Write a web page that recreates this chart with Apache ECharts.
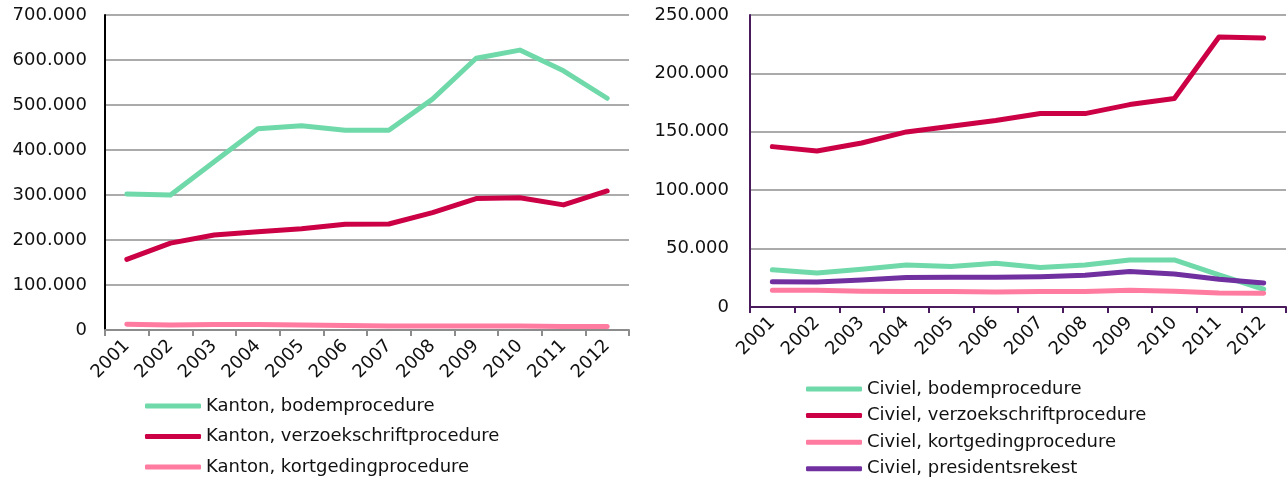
<!DOCTYPE html>
<html>
<head>
<meta charset="utf-8">
<script src="https://cdn.jsdelivr.net/npm/echarts@6/dist/echarts.min.js"></script>
<style>
html,body{margin:0;padding:0;background:#fff;}
#c{width:1288px;height:484px;}
</style>
</head>
<body>
<div id="c"></div>
<script>
const years = ['2001','2002','2003','2004','2005','2006','2007','2008','2009','2010','2011','2012'];

const kantonBodem   = [302000,300000,374000,447000,454000,444000,444000,513000,604000,622000,576000,515000];
const kantonVerzoek = [157000,193000,211000,218500,225000,235000,235500,261000,292000,294000,278000,309000];
const kantonKort    = [13000,11000,12000,12000,11000,10000,9000,9000,9000,9000,8000,8000];

const civielBodem   = [31800,29200,32300,36000,34600,37500,33800,36000,40300,40300,27500,15200];
const civielVerzoek = [137300,133600,140400,149900,154700,159600,165600,165600,173300,178500,231100,230300];
const civielKort    = [14300,14300,13400,13200,13200,12900,13200,13200,14300,13400,12000,11700];
const civielPres    = [21700,21500,23200,25200,25500,25500,26000,27200,30300,28300,23700,20600];

const leftNames  = ['Kanton, bodemprocedure','Kanton, verzoekschriftprocedure','Kanton, kortgedingprocedure'];
const rightNames = ['Civiel, bodemprocedure','Civiel, verzoekschriftprocedure','Civiel, kortgedingprocedure','Civiel, presidentsrekest'];

const GREEN='#6FD9AA', RED='#CC0044', PINK='#FF7BA0', PURPLE='#7030A0';
const FONT='DejaVu Sans';
const FS=18;

function fmt(v){ return String(v).replace(/\B(?=(\d{3})+(?!\d))/g,'.'); }

function xAxis(gi, lineColor, tickColor){
  return {
    type:'category', gridIndex:gi, data:years, boundaryGap:true,
    axisLine:{show:true,lineStyle:{color:lineColor,width:2}},
    axisTick:{show:true,length:6,inside:false,lineStyle:{color:tickColor,width:2}},
    axisLabel:{rotate:45,fontFamily:FONT,fontSize:FS,color:'#111',margin:13,interval:0},
    splitLine:{show:false}
  };
}
function yAxis(gi, max, interval, lineColor, margin){
  return {
    type:'value', gridIndex:gi, min:0, max:max, interval:interval,
    axisLine:{show:true,lineStyle:{color:lineColor,width:2}},
    axisTick:{show:false},
    axisLabel:{formatter:fmt,fontFamily:FONT,fontSize:FS,color:'#111',margin:margin},
    splitLine:{show:true,lineStyle:{color:'#ababab',width:2}}
  };
}
function line(name, data, color, xi){
  return {
    type:'line', name:name, data:data, xAxisIndex:xi, yAxisIndex:xi,
    showSymbol:false, symbol:'none', smooth:false,
    lineStyle:{color:color,width:5,cap:'round',join:'round'},
    itemStyle:{color:color}
  };
}

const chart = echarts.init(document.getElementById('c'), null, {renderer:'canvas'});
chart.setOption({
  animation:false,
  backgroundColor:'#fff',
  grid:[
    {left:105, top:15, width:524, height:315},
    {left:750, top:15, width:536, height:292}
  ],
  xAxis:[ xAxis(0,'#8c8c8c','#8c8c8c'), xAxis(1,'#4a1b5c','#4a1b5c') ],
  yAxis:[ yAxis(0,700000,100000,'#000',18), yAxis(1,250000,50000,'#4a1b5c',21) ],
  legend:[
    {data:leftNames, orient:'vertical', left:145, top:397, padding:0, itemWidth:56, itemHeight:5, itemGap:12.5,
     icon:'roundRect', textStyle:{fontFamily:FONT,fontSize:FS,color:'#111'}},
    {data:rightNames, orient:'vertical', left:806, top:380, padding:0, itemWidth:56, itemHeight:5, itemGap:8.6,
     icon:'roundRect', textStyle:{fontFamily:FONT,fontSize:FS,color:'#111'}}
  ],
  series:[
    line(leftNames[0], kantonBodem, GREEN, 0),
    line(leftNames[1], kantonVerzoek, RED, 0),
    line(leftNames[2], kantonKort, PINK, 0),
    line(rightNames[0], civielBodem, GREEN, 1),
    line(rightNames[1], civielVerzoek, RED, 1),
    line(rightNames[2], civielKort, PINK, 1),
    line(rightNames[3], civielPres, PURPLE, 1)
  ]
});
</script>
</body>
</html>
